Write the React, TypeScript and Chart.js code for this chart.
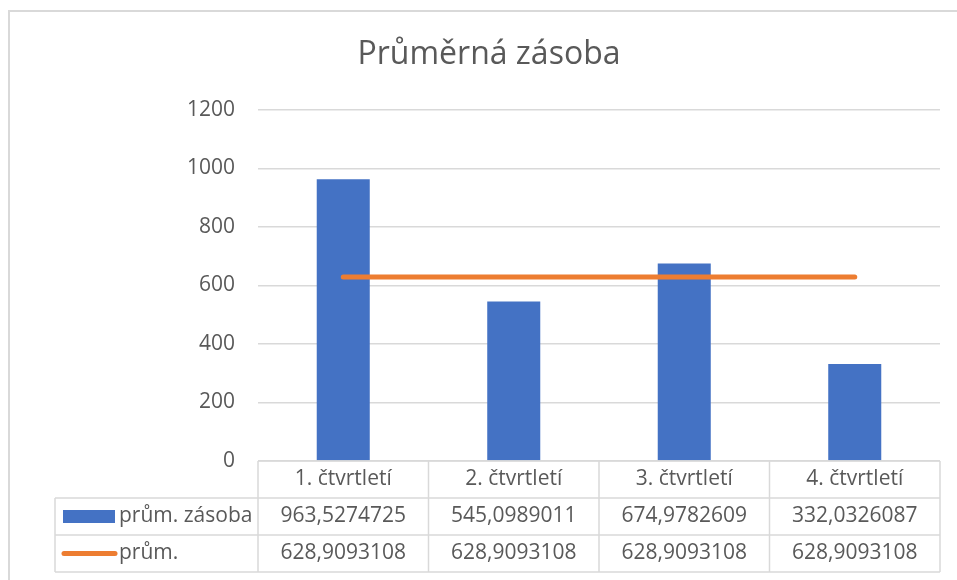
import React, { useEffect, useRef } from "react";
import { Chart, registerables } from "chart.js";

Chart.register(...registerables);

const title = "Průměrná zásoba";
const categories = ["1. čtvrtletí", "2. čtvrtletí", "3. čtvrtletí", "4. čtvrtletí"];
const seriesBarName = "prům. zásoba";
const seriesBar = [963.5274725, 545.0989011, 674.9782609, 332.0326087];
const seriesLineName = "prům.";
const seriesLine = [628.9093108, 628.9093108, 628.9093108, 628.9093108];
const yMin = 0;
const yMax = 1200;
const yStep = 200;

const BLUE = "#4472C4";
const ORANGE = "#ED7D31";
const TEXT = "#595959";
const GRID = "#d9d9d9";
const FONT = "'Open Sans', 'Noto Sans', sans-serif";

const fmt = (v: number) => String(v).replace(".", ",");

const tablePlugin = {
  id: "dataTable",
  beforeDraw(chart: any) {
    const ctx = chart.ctx;
    ctx.save();
    ctx.fillStyle = "#ffffff";
    ctx.fillRect(0, 0, chart.width, chart.height);
    ctx.strokeStyle = GRID;
    ctx.lineWidth = 2;
    ctx.strokeRect(9, 11, chart.width + 40, chart.height + 40);
    ctx.restore();
  },
  afterDraw(chart: any) {
    const ctx = chart.ctx;
    const area = chart.chartArea;
    const xs = chart.scales.x;
    const n = categories.length;
    const colW = (area.right - area.left) / n;
    const top = area.bottom;
    const rowH = 37;
    const tableLeft = 55;
    ctx.save();
    ctx.strokeStyle = GRID;
    ctx.lineWidth = 1.5;
    ctx.beginPath();
    ctx.moveTo(area.left, top);
    ctx.lineTo(area.right, top);
    for (let r = 1; r <= 3; r++) {
      ctx.moveTo(tableLeft, top + r * rowH);
      ctx.lineTo(area.right, top + r * rowH);
    }
    ctx.moveTo(tableLeft, top + rowH);
    ctx.lineTo(tableLeft, top + 3 * rowH);
    for (let k = 0; k <= n; k++) {
      const x = area.left + k * colW;
      ctx.moveTo(x, top);
      ctx.lineTo(x, top + 3 * rowH);
    }
    ctx.stroke();

    ctx.fillStyle = TEXT;
    ctx.font = `21px ${FONT}`;
    ctx.textAlign = "center";
    ctx.textBaseline = "middle";
    for (let i = 0; i < n; i++) {
      const cx = xs.getPixelForValue(i);
      ctx.fillText(categories[i], cx, top + rowH * 0.5);
      ctx.fillText(fmt(seriesBar[i]), cx, top + rowH * 1.5);
      ctx.fillText(fmt(seriesLine[i]), cx, top + rowH * 2.5);
    }
    // legend keys
    const y1 = top + rowH * 1.5;
    const y2 = top + rowH * 2.5;
    ctx.fillStyle = BLUE;
    ctx.fillRect(63, y1 - 6.5, 52, 13);
    ctx.strokeStyle = ORANGE;
    ctx.lineWidth = 5;
    ctx.lineCap = "round";
    ctx.beginPath();
    ctx.moveTo(64, y2);
    ctx.lineTo(115, y2);
    ctx.stroke();
    ctx.fillStyle = TEXT;
    ctx.textAlign = "left";
    ctx.fillText(seriesBarName, 119, y1);
    ctx.fillText(seriesLineName, 119, y2);
    ctx.restore();
  },
};

export default function App() {
  const ref = useRef<HTMLCanvasElement>(null);
  useEffect(() => {
    if (!ref.current) return;
    const chart = new Chart(ref.current, {
      type: "bar",
      data: {
        labels: categories,
        datasets: [
          {
            type: "line",
            label: seriesLineName,
            data: seriesLine,
            borderColor: ORANGE,
            backgroundColor: ORANGE,
            borderWidth: 5,
            borderCapStyle: "round",
            pointRadius: 0,
            order: 1,
          } as any,
          {
            type: "bar",
            label: seriesBarName,
            data: seriesBar,
            backgroundColor: BLUE,
            barPercentage: 0.311,
            categoryPercentage: 1,
            order: 2,
          },
        ],
      },
      options: {
        responsive: false,
        animation: false,
        devicePixelRatio: 1,
        layout: { padding: { left: 38, right: 17, top: 0, bottom: 119 } },
        plugins: {
          legend: { display: false },
          tooltip: { enabled: false },
          title: {
            display: true,
            text: title,
            color: TEXT,
            font: { family: FONT, size: 32, weight: "normal", lineHeight: 1.2 },
            padding: { top: 36, bottom: 35.6 },
          },
        },
        scales: {
          x: { display: false, offset: true },
          y: {
            min: yMin,
            max: yMax,
            ticks: {
              stepSize: yStep,
              color: TEXT,
              padding: 23,
              font: { family: FONT, size: 21 },
              callback: (v: any) => String(v),
            },
            grid: { color: GRID, lineWidth: 1.5, drawTicks: false },
            border: { display: false },
            afterFit: (scale: any) => {
              scale.width = 220;
            },
          } as any,
        },
      },
      plugins: [tablePlugin],
    });
    return () => chart.destroy();
  }, []);
  return (
    <div style={{ position: "absolute", left: 0, top: 0, width: 957, height: 580 }}>
      <canvas ref={ref} width={957} height={580} style={{ display: "block" }} />
    </div>
  );
}
